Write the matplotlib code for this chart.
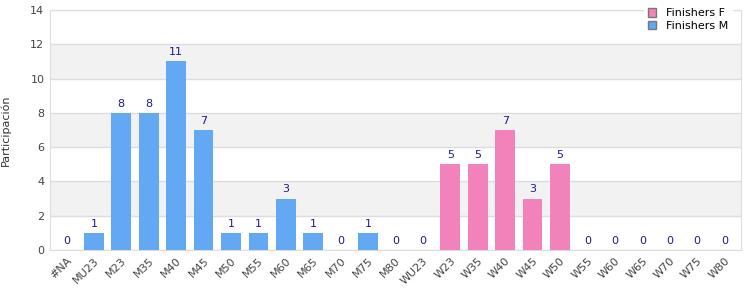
import matplotlib
matplotlib.use("Agg")
import matplotlib.pyplot as plt
from matplotlib.patches import Patch

categories = ["#NA", "MU23", "M23", "M35", "M40", "M45", "M50", "M55", "M60", "M65",
              "M70", "M75", "M80", "WU23", "W23", "W35", "W40", "W45", "W50", "W55",
              "W60", "W65", "W70", "W75", "W80"]
finishers_m = [0, 1, 8, 8, 11, 7, 1, 1, 3, 1, 0, 1, 0, 0, 0, 0, 0, 0, 0, 0, 0, 0, 0, 0, 0]
finishers_f = [0, 0, 0, 0, 0, 0, 0, 0, 0, 0, 0, 0, 0, 0, 5, 5, 7, 3, 5, 0, 0, 0, 0, 0, 0]

blue = "#62A8F2"
pink = "#F282BA"
label_color = "#1A1A8C"

fig = plt.figure(figsize=(7.5, 3), dpi=100)
ax = fig.add_axes([50/750, 50/300, 691/750, 240/300])

x = list(range(len(categories)))
ax.bar(x, finishers_m, width=0.72, color=blue, zorder=3)
ax.bar(x, finishers_f, width=0.72, color=pink, zorder=3)

for i in x:
    v = max(finishers_m[i], finishers_f[i])
    ax.text(i, v + 0.25, str(v), ha="center", va="bottom", fontsize=8, color=label_color, zorder=4)

ax.set_xlim(-0.6, len(categories) - 0.4)
ax.set_ylim(0, 14)
ax.set_yticks(range(0, 15, 2))
for lo in (2, 6, 10):
    ax.axhspan(lo, lo + 2, color="#F2F2F2", zorder=0, lw=0)
ax.grid(axis="y", color="#DDDDDD", lw=1, zorder=1)
ax.set_axisbelow(True)
for s in ax.spines.values():
    s.set_color("#DDDDDD")
ax.tick_params(length=0, labelsize=8, colors="#444444", pad=4)
ax.set_xticks(x)
ax.set_xticklabels(categories, rotation=45, ha="right", rotation_mode="anchor")
ax.set_ylabel("Participación", fontsize=8, color="#333333", labelpad=14)

handles = [Patch(facecolor=pink, edgecolor="#777777", label="Finishers F"),
           Patch(facecolor=blue, edgecolor="#777777", label="Finishers M")]
leg = ax.legend(handles=handles, loc="upper right", bbox_to_anchor=(0.995, 1.045),
                fontsize=8, frameon=True, fancybox=False, framealpha=1,
                edgecolor="white", handlelength=0.8, handleheight=0.8,
                labelspacing=0.25, borderpad=0.3, handletextpad=0.9)
leg.set_zorder(10)

fig.savefig("out.png", dpi=100)
